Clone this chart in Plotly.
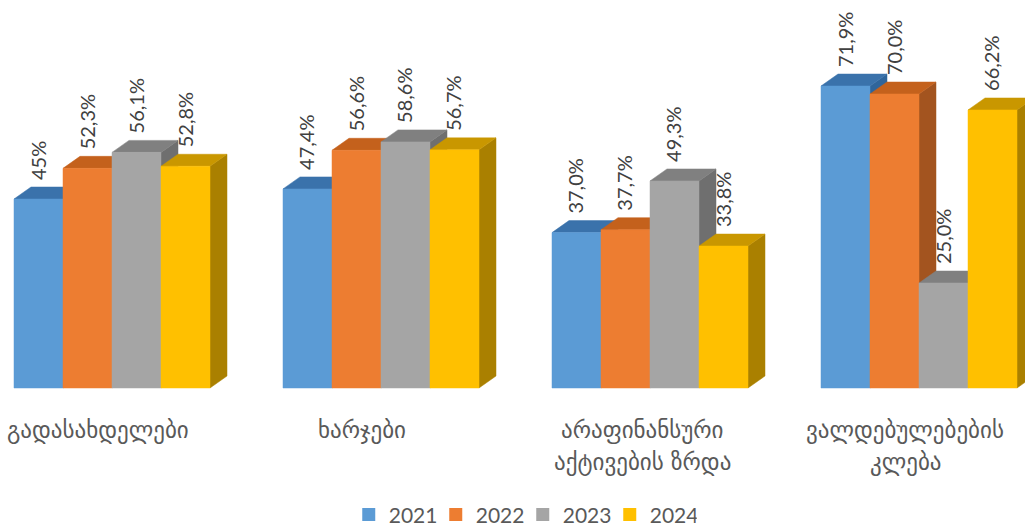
import plotly.graph_objects as go

categories = ["გადასახდელები", "ხარჯები", "არაფინანსური\nაქტივების ზრდა", "ვალდებულებების\nკლება"]
years = ["2021", "2022", "2023", "2024"]
values_2021 = [45.0, 47.4, 37.0, 71.9]
values_2022 = [52.3, 56.6, 37.7, 70.0]
values_2023 = [56.1, 58.6, 49.3, 25.0]
values_2024 = [52.8, 56.7, 33.8, 66.2]
labels_2021 = ["45%", "47,4%", "37,0%", "71,9%"]
labels_2022 = ["52,3%", "56,6%", "37,7%", "70,0%"]
labels_2023 = ["56,1%", "58,6%", "49,3%", "25,0%"]
labels_2024 = ["52,8%", "56,7%", "33,8%", "66,2%"]

front_colors = ["#5B9BD5", "#ED7D31", "#A5A5A5", "#FFC000"]
top_colors = ["#3A72AB", "#C4611C", "#808080", "#C99700"]
side_colors = ["#2F659B", "#A3541F", "#6F6F6F", "#AA8000"]

W, H = 1025, 529
BASE_PX = 388
PX_PER_UNIT = 4.2
GROUP_PX = 269
FIRST_LEFT_PX = 14
BAR_PX = 49
DEPTH_X_PX = 17
DEPTH_Y_PX = 12
LABEL_CENTER_PX = [98, 362, 642, 905]

series = list(zip(years, [values_2021, values_2022, values_2023, values_2024],
                  [labels_2021, labels_2022, labels_2023, labels_2024],
                  front_colors, top_colors, side_colors))

fig = go.Figure()
dy = DEPTH_Y_PX / PX_PER_UNIT
annotations = []

def poly(xs, ys, color, name):
    fig.add_trace(go.Scatter(x=xs + xs[:1], y=ys + ys[:1], mode="lines", fill="toself",
                             fillcolor=color, line=dict(color=color, width=0.5),
                             hoverinfo="skip", showlegend=False, name=name))

# depth-ordered per group: series drawn left to right, each covering the previous
for g in range(len(categories)):
    for s, (yr, vals, labs, fc, tc, sc) in enumerate(series):
        v = vals[g]
        x0 = FIRST_LEFT_PX + g * GROUP_PX + s * BAR_PX
        x1 = x0 + BAR_PX
        d = DEPTH_X_PX
        poly([x1, x1 + d, x1 + d, x1], [0, dy, v + dy, v], sc, yr)
        poly([x0, x1, x1 + d, x0 + d], [v, v, v + dy, v + dy], tc, yr)
        poly([x0, x1, x1, x0], [0, 0, v, v], fc, yr)
        annotations.append(dict(x=(x0 + x1) / 2 - 1, y=v, yshift=17, text=labs[g], textangle=-90,
                                showarrow=False, xanchor="center", yanchor="bottom",
                                font=dict(family="Lato", size=20, color="#404040")))

for g, cat in enumerate(categories):
    for i, line in enumerate(cat.split("\n")):
        annotations.append(dict(x=LABEL_CENTER_PX[g], y=0, yshift=-42 - 32 * i, text=line,
                                showarrow=False, xanchor="center", yanchor="middle",
                                font=dict(family="DejaVu Sans", size=23, color="#595959")))

for yr, fc in zip(years, front_colors):
    fig.add_trace(go.Scatter(x=[None], y=[None], mode="markers", name=yr,
                             marker=dict(symbol="square", size=13, color=fc)))

fig.update_layout(
    width=W, height=H, margin=dict(l=0, r=0, t=0, b=0, autoexpand=False),
    paper_bgcolor="white", plot_bgcolor="white",
    xaxis=dict(range=[0, W], visible=False, fixedrange=True),
    yaxis=dict(range=[-(H - BASE_PX) / PX_PER_UNIT, BASE_PX / PX_PER_UNIT], visible=False, fixedrange=True),
    annotations=annotations,
    legend=dict(orientation="h", x=0.51, xanchor="center", y=-0.012, yanchor="bottom",
                entrywidth=42, entrywidthmode="pixels", traceorder="normal",
                font=dict(family="Lato", size=21, color="#595959")),
)
fig.write_html("out.html", config=dict(displayModeBar=False),
               post_script="document.body.style.margin='0';")
